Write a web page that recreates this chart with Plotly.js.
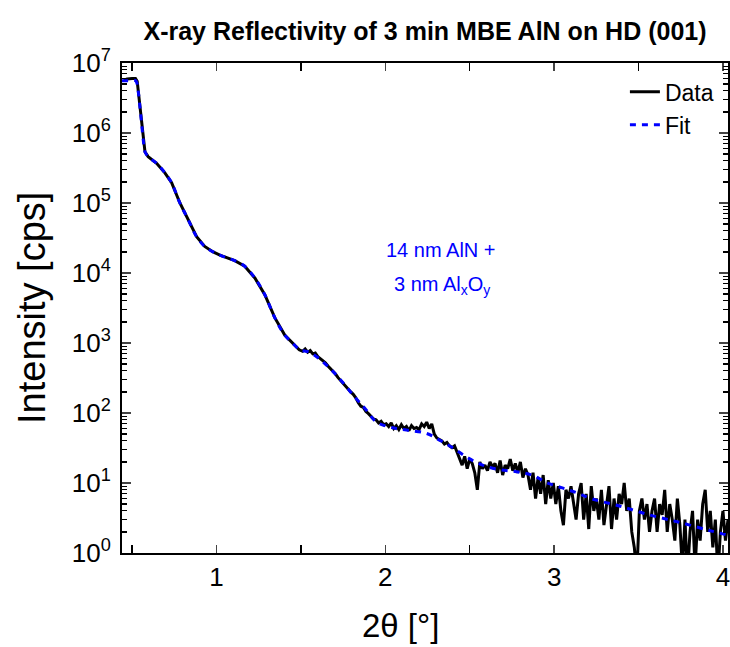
<!DOCTYPE html>
<html>
<head>
<meta charset="utf-8">
<script src="https://cdn.plot.ly/plotly-3.0.1.min.js"></script>
<style>html,body{margin:0;padding:0;background:#fff;}#chart{width:730px;height:647px;}</style>
</head>
<body>
<div id="chart"></div>
<script>
// Measured data (2theta in degrees, intensity in cps)
const dataX = [0.45,0.47,0.50,0.52,0.53,0.536,0.546,0.556,0.566,0.576,0.595,0.645,0.694,0.734,0.783,0.832,0.882,0.93,0.98,1.02,1.06,1.108,1.167,1.227,1.286,1.345,1.404,1.463,
1.49,1.51,1.525,1.54,1.555,1.57,1.585,1.60,1.615,1.63,1.645,1.66,1.675,1.69,1.705,1.72,1.735,1.75,1.765,1.78,1.795,1.81,1.825,1.84,1.855,1.87,1.885,1.90,1.915,1.93,1.945,1.96,1.975,1.99,
2.005,2.02,2.035,2.05,2.065,2.08,2.095,2.11,2.125,2.14,2.155,2.17,2.185,2.20,2.215,2.23,2.245,2.26,2.275,2.29,2.305,2.32,2.335,2.35,2.365,2.38,2.395,2.41,2.425,2.44,2.455,2.47,2.485,2.50,
2.515,2.53,2.545,2.56,2.575,2.59,2.605,2.62,2.635,2.65,2.665,2.68,2.695,2.71,2.725,2.74,2.755,2.77,2.785,2.80,2.815,2.83,2.845,2.86,2.875,2.89,2.905,2.92,2.935,2.95,2.965,2.98,2.995,
3.01,3.025,3.04,3.055,3.07,3.085,3.10,3.115,3.13,3.145,3.16,3.175,3.19,3.205,3.22,3.235,3.25,3.265,3.28,3.295,3.31,3.325,3.34,3.355,3.37,3.385,3.40,3.415,3.43,3.445,3.46,3.475,3.49,
3.505,3.52,3.535,3.55,3.565,3.58,3.595,3.61,3.625,3.64,3.655,3.67,3.685,3.70,3.715,3.73,3.745,3.76,3.775,3.79,3.805,3.82,3.835,3.85,3.865,3.88,3.895,3.91,3.925,3.94,3.955,3.97,3.985,4.00,4.015,4.03];
const dataY = [5.7e6,5.9e6,6.0e6,6.0e6,5.5e6,4.1e6,2.4e6,1.38e6,7.9e5,5.4e5,4.6e5,3.7e5,2.7e5,1.95e5,1.0e5,5.8e4,3.3e4,2.4e4,2.0e4,1.8e4,1.65e4,1.5e4,1.25e4,8.5e3,4.9e3,2.3e3,1.3e3,930,
800,760,820,740,780,700,720,640,600,560,520,470,430,400,360,320,290,270,240,215,200,185,165,140,125,120,105,98,90,82,80,72,76,68,
70,64,72,60,66,58,68,60,64,56,66,60,62,58,70,64,74,60,70,50,44,42,40,36,38,34,32,34,28,22,18,24,16,22,
19,14,8,20,16,18,15,20,17,19,14,21,13,18,16,22,15,19,14,20,12,16,13,8,14,6,12,7,13,5,11,6,10,
5,9,4,2.5,8,6,9,5,3,7,10,3,7,2.2,9,4,6,3,8,2.5,5,9,2.2,6,3,7,5,10,4,6,2,1.2,0.5,
4,6,3,5,2,4,6,2,5,3.5,8,2,5,3,1.5,6,2.5,0.6,3,0.5,2,4,0.6,3,1.5,5,8,2,4,1.2,3,0.5,2,4,1.5,3];
// Fit curve
const fitX = [0.44,0.48,0.52,0.53,0.536,0.546,0.556,0.566,0.576,0.595,0.645,0.694,0.734,0.783,0.832,0.882,0.93,0.98,1.02,1.06,1.108,1.167,1.227,1.286,1.345,1.404,1.463,1.493,
1.55,1.611,1.682,1.747,1.818,1.877,1.949,2.037,2.126,2.245,2.321,2.398,2.487,2.576,2.676,2.777,2.872,2.954,3.049,3.138,3.227,3.386,3.564,3.741,3.919,4.03];
const fitY = [5.6e6,5.6e6,5.6e6,5.0e6,4.0e6,2.4e6,1.38e6,7.9e5,5.4e5,4.6e5,3.7e5,2.7e5,1.95e5,1.0e5,5.8e4,3.3e4,2.4e4,2.0e4,1.8e4,1.65e4,1.5e4,1.25e4,8.5e3,4.9e3,2.3e3,1.3e3,930,800,
740,590,410,275,170,118,74,62,57,51,41,32,23,18,15.5,14.5,12.9,10.2,8.5,7.2,5.9,4.7,3.5,2.75,2.1,1.8];

const yTickVals = [1,10,100,1e3,1e4,1e5,1e6,1e7];
const yTickText = ['10<sup>0</sup>','10<sup>1</sup>','10<sup>2</sup>','10<sup>3</sup>','10<sup>4</sup>','10<sup>5</sup>','10<sup>6</sup>','10<sup>7</sup>'];
const xTickVals = [1,2,3,4];
const xTickText = ['1','2','3','4'];
const xMinorVals = [0.5,1.5,2.5,3.5];

const yMinor = [];
for (let e = 0; e < 7; e++) for (let d = 2; d <= 9; d++) yMinor.push(d * Math.pow(10, e));

const font = 'Liberation Sans, Arial, sans-serif';
const L = 122, T = 63, W = 606, H = 490;
const traces = [
  {x: dataX, y: dataY, type: 'scatter', mode: 'lines', name: 'Data',
   line: {color: '#000000', width: 3}},
  {x: fitX, y: fitY, type: 'scatter', mode: 'lines', name: 'Fit', line: {color: '#0000ff', width: 3, dash: '6px,6px', shape: 'spline'}}
];
const layout = {
  width: 730, height: 647,
  margin: {l: L, r: 730 - L - W, t: T, b: 647 - T - H},
  paper_bgcolor: '#fff', plot_bgcolor: '#fff',
  font: {family: font, color: '#000'},
  title: {text: '<b>X-ray Reflectivity of 3 min MBE AlN on HD (001)</b>', font: {size: 25, family: font},
          x: 0.5, xref: 'paper', xanchor: 'center', y: 33, yref: 'container', yanchor: 'middle'},
  xaxis: {range: [0.44, 4.03], tickvals: xTickVals, ticktext: xTickText, ticks: 'inside', ticklen: 8, tickwidth: 1.5,
          showline: true, linewidth: 2, linecolor: '#000', mirror: 'ticks', showgrid: false, zeroline: false,
          tickfont: {size: 26}, ticklabeloverflow: 'allow',
          minor: {tickvals: xMinorVals, ticks: 'inside', ticklen: 8, tickwidth: 1.5, tickcolor: '#000', showgrid: false}},
  yaxis: {type: 'log', range: [0, 7], tickvals: yTickVals, ticktext: yTickText, ticks: 'inside', ticklen: 9, tickwidth: 1.5,
          showline: true, linewidth: 2, linecolor: '#000', mirror: 'ticks', showgrid: false, zeroline: false,
          tickfont: {size: 26}, ticklabelstandoff: 4, ticklabeloverflow: 'allow',
          minor: {tickvals: yMinor, ticks: 'inside', ticklen: 5, tickwidth: 1.2, tickcolor: '#000', showgrid: false}},
  showlegend: true,
  legend: {x: 0.985, xanchor: 'right', y: 0.985, yanchor: 'top', bgcolor: 'rgba(0,0,0,0)', font: {size: 23}, tracegroupgap: 0},
  annotations: [
    {text: '2θ [°]', xref: 'paper', yref: 'paper', x: (400 - L) / W, y: (T + H - 625) / H, xanchor: 'center', yanchor: 'middle',
     showarrow: false, font: {size: 33}},
    {text: 'Intensity [cps]', xref: 'paper', yref: 'paper', x: (32 - L) / W, y: (T + H - 308) / H, xanchor: 'center', yanchor: 'middle',
     textangle: -90, showarrow: false, font: {size: 38}},
    {text: '14 nm AlN +', xref: 'paper', yref: 'paper', x: (441 - L) / W, y: (T + H - 250) / H, xanchor: 'center', yanchor: 'middle',
     showarrow: false, font: {size: 20, color: '#0000ff'}},
    {text: '3 nm Al<sub>x</sub>O<sub>y</sub>', xref: 'paper', yref: 'paper', x: (442 - L) / W, y: (T + H - 285) / H, xanchor: 'center', yanchor: 'middle',
     showarrow: false, font: {size: 20, color: '#0000ff'}}
  ]
};
Plotly.newPlot('chart', traces, layout, {displayModeBar: false, staticPlot: true});
</script>
</body>
</html>
